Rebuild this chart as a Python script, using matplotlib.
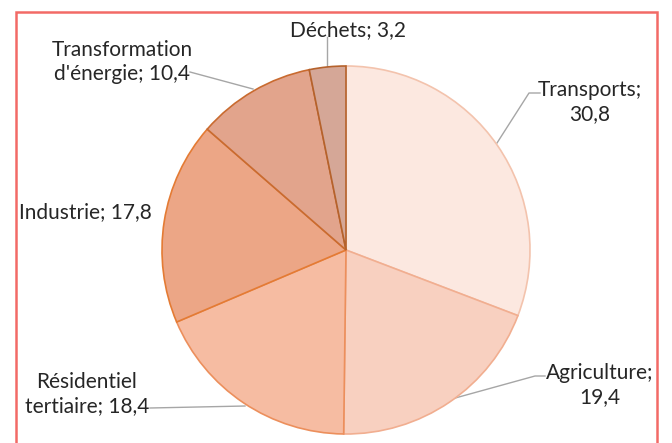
import matplotlib.pyplot as plt
from matplotlib.patches import Rectangle

# data (shares in %, clockwise from the top)
categories = ["Transports", "Agriculture", "Résidentiel\ntertiaire", "Industrie",
              "Transformation\nd'énergie", "Déchets"]
values = [30.8, 19.4, 18.4, 17.8, 10.4, 3.2]
fills = ["#FCE8E0", "#F8D0C0", "#F6BCA2", "#ECA686", "#E2A48C", "#D5A797"]
edges = ["#F3C3AD", "#F1AE90", "#EC8F5C", "#E47B34", "#C96B30", "#B5622C"]

W, H = 672, 443
fig = plt.figure(figsize=(W / 100, H / 100), dpi=100)
ax = fig.add_axes([0, 0, 1, 1])

# pixel -> data (y up)
def py(y):
    return H - y

cx, cy, r = 346, 250, 184
wedges, _ = ax.pie(values, startangle=90, counterclock=False, center=(cx, py(cy)),
                   radius=r, colors=fills, frame=True,
                   wedgeprops=dict(linewidth=1.2))
for w, ec in zip(wedges, edges):
    w.set_edgecolor(ec)

ax.set_xlim(0, W)
ax.set_ylim(0, H)
ax.axis("off")

# outer frame
ax.add_patch(Rectangle((16, py(460)), 641, 448, fill=False, edgecolor="#F26A66",
                       linewidth=1.8, zorder=0))

def fmt(c, v):
    s = f"{v:.1f}".replace(".", ",")
    return c + "; " + s

# label layout: (x, y) centre in pixels
label_pos = [(590, 102), (600, 385), (87, 394), (85, 212), (122, 62), (348, 30)]
texts = [fmt(c, v) for c, v in zip(categories, values)]
texts[0] = "Transports;\n30,8"
texts[1] = "Agriculture;\n19,4"
for t, (x, y) in zip(texts, label_pos):
    ax.text(x, py(y), t, ha="center", va="center", fontsize=15, family="Lato",
            color="#262626", linespacing=1.28, multialignment="center")

# leader lines
leaders = [
    ([540, 529, 497], [93, 93, 143]),
    ([545, 535, 448], [376, 376, 400]),
    ([150, 245], [408, 406]),
    ([190, 253], [72, 89]),
    ([327, 327], [37, 66]),
]
for xs, ys in leaders:
    ax.plot(xs, [py(v) for v in ys], color="#A6A6A6", linewidth=1, zorder=0.5)

fig.savefig("out.png", dpi=100)
